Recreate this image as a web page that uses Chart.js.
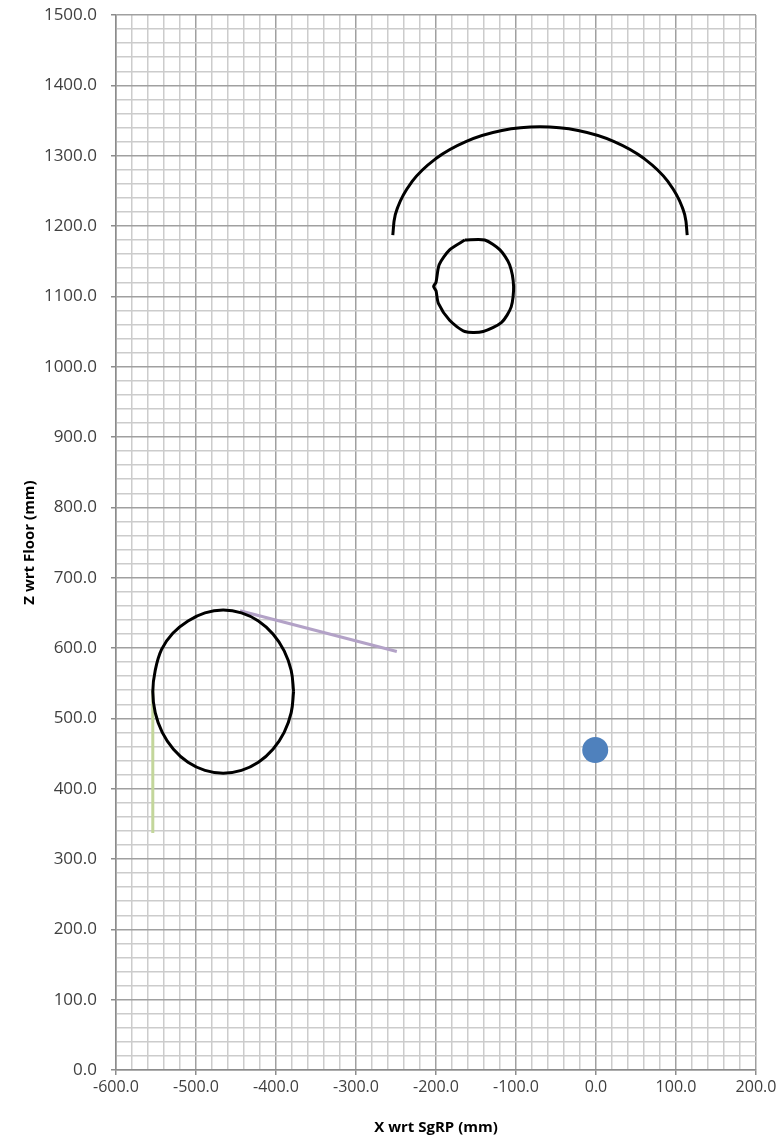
<!DOCTYPE html>
<html>
<head>
<meta charset="utf-8">
<script src="https://cdn.jsdelivr.net/npm/chart.js@4.4.1/dist/chart.umd.min.js"></script>
<style>
html,body{margin:0;padding:0;background:#fff;}
canvas{display:block;}
</style>
</head>
<body>
<canvas id="c" width="784" height="1145"></canvas>
<script>
// Axis ranges / tick settings
const xMin = -600, xMax = 200, zMin = 0, zMax = 1500;
const minorStep = 20, majorStep = 100;

// Upper arc (black)
const arcX = [-254, -252.4, -247.7, -229.3, -200.1, -162, -117.6, -70, -22.4, 22, 60.1, 89.3, 107.7, 112.4, 114];
const arcZ = [1187, 1207, 1226.9, 1264, 1295.9, 1320.4, 1335.8, 1341, 1335.8, 1320.4, 1295.9, 1264, 1226.9, 1207, 1187];

// Small loop (black)
const loopX = [-164, -139, -120, -108, -103, -106, -118, -141, -164, -183, -197, -200, -203, -200, -196, -183, -164];
const loopZ = [1180, 1180, 1166, 1145, 1114, 1085, 1063, 1050, 1050, 1066, 1090, 1108, 1114, 1120, 1145, 1166, 1180];

// Lower ellipse (black)
const ellX = [-378, -381, -389.8, -403.8, -422, -443.2, -466, -488.8, -510, -529, -543, -551, -554, -551, -542.2, -528.2, -510, -488.8, -466, -443.2, -422, -403.8, -389.8, -381, -378];
const ellZ = [538, 568, 596, 620, 638.5, 650, 654, 650, 638.5, 621, 598, 568, 538, 508, 480, 456, 437.5, 426, 422, 426, 437.5, 456, 480, 508, 538];

// Purple line
const purpleX = [-445, -249];
const purpleZ = [653, 595];

// Green line
const greenX = [-554, -554];
const greenZ = [541, 337];

// Blue point
const pointX = [-1];
const pointZ = [455];

const pts = (xs, zs) => xs.map((x, i) => ({x: x, y: zs[i]}));

const fontFam = "'Open Sans', 'Liberation Sans', sans-serif";
const isMajor = v => Math.abs(Math.round(v) % majorStep) === 0;

new Chart(document.getElementById('c'), {
  type: 'scatter',
  data: {
    datasets: [
      {data: pts(arcX, arcZ), showLine: true, borderColor: '#000', borderWidth: 3, pointRadius: 0, cubicInterpolationMode: 'monotone', fill: false},
      {data: pts(loopX, loopZ), showLine: true, borderColor: '#000', borderWidth: 3, pointRadius: 0, tension: 0.25, fill: false},
      {data: pts(ellX, ellZ), showLine: true, borderColor: '#000', borderWidth: 3, pointRadius: 0, tension: 0.4, fill: false},
      {data: pts(purpleX, purpleZ), showLine: true, borderColor: '#B3A2C7', borderWidth: 3, pointRadius: 0, fill: false},
      {data: pts(greenX, greenZ), showLine: true, borderColor: '#C3D69B', borderWidth: 3, pointRadius: 0, fill: false},
      {data: pts(pointX, pointZ), showLine: false, backgroundColor: '#4F81BD', borderColor: '#4F81BD', borderWidth: 0, pointRadius: 13}
    ]
  },
  options: {
    responsive: false,
    animation: false,
    devicePixelRatio: 1,
    layout: {padding: {top: 15, right: 28, left: 0, bottom: 0}},
    plugins: {legend: {display: false}, tooltip: {enabled: false}},
    scales: {
      x: {
        type: 'linear', min: xMin, max: xMax,
        afterFit: s => { s.height = 75; s.paddingLeft = 0; s.paddingRight = 0; },
        ticks: {
          stepSize: minorStep, autoSkip: false, maxRotation: 0, padding: 3,
          color: '#404040', font: {family: fontFam, size: 16},
          callback: v => isMajor(v) ? Number(v).toFixed(1) : ''
        },
        grid: {
          color: c => (c.tick && isMajor(c.tick.value)) ? '#a0a0a0' : '#cccccc',
          lineWidth: 1.5,
          tickLength: 5,
          tickColor: c => (c.tick && isMajor(c.tick.value)) ? '#8c8c8c' : 'rgba(0,0,0,0)'
        },
        border: {color: '#8c8c8c', width: 1.5},
        title: {display: true, text: 'X wrt SgRP (mm)', color: '#000', font: {family: fontFam, size: 15, weight: 'bold'}, padding: {top: 0, bottom: 8}}
      },
      y: {
        type: 'linear', min: zMin, max: zMax,
        afterFit: s => { s.width = 116; s.paddingTop = 0; s.paddingBottom = 0; },
        ticks: {
          stepSize: minorStep, autoSkip: false, padding: 14,
          color: '#404040', font: {family: fontFam, size: 17},
          callback: v => isMajor(v) ? Number(v).toFixed(1) : ''
        },
        grid: {
          color: c => (c.tick && isMajor(c.tick.value)) ? '#a0a0a0' : '#cccccc',
          lineWidth: 1.5,
          tickLength: 5,
          tickColor: c => (c.tick && isMajor(c.tick.value)) ? '#8c8c8c' : 'rgba(0,0,0,0)'
        },
        border: {color: '#8c8c8c', width: 1.5},
        title: {display: true, text: 'Z wrt Floor (mm)', color: '#000', font: {family: fontFam, size: 15, weight: 'bold'}, padding: {top: 21, bottom: 0}}
      }
    }
  }
});
</script>
</body>
</html>
